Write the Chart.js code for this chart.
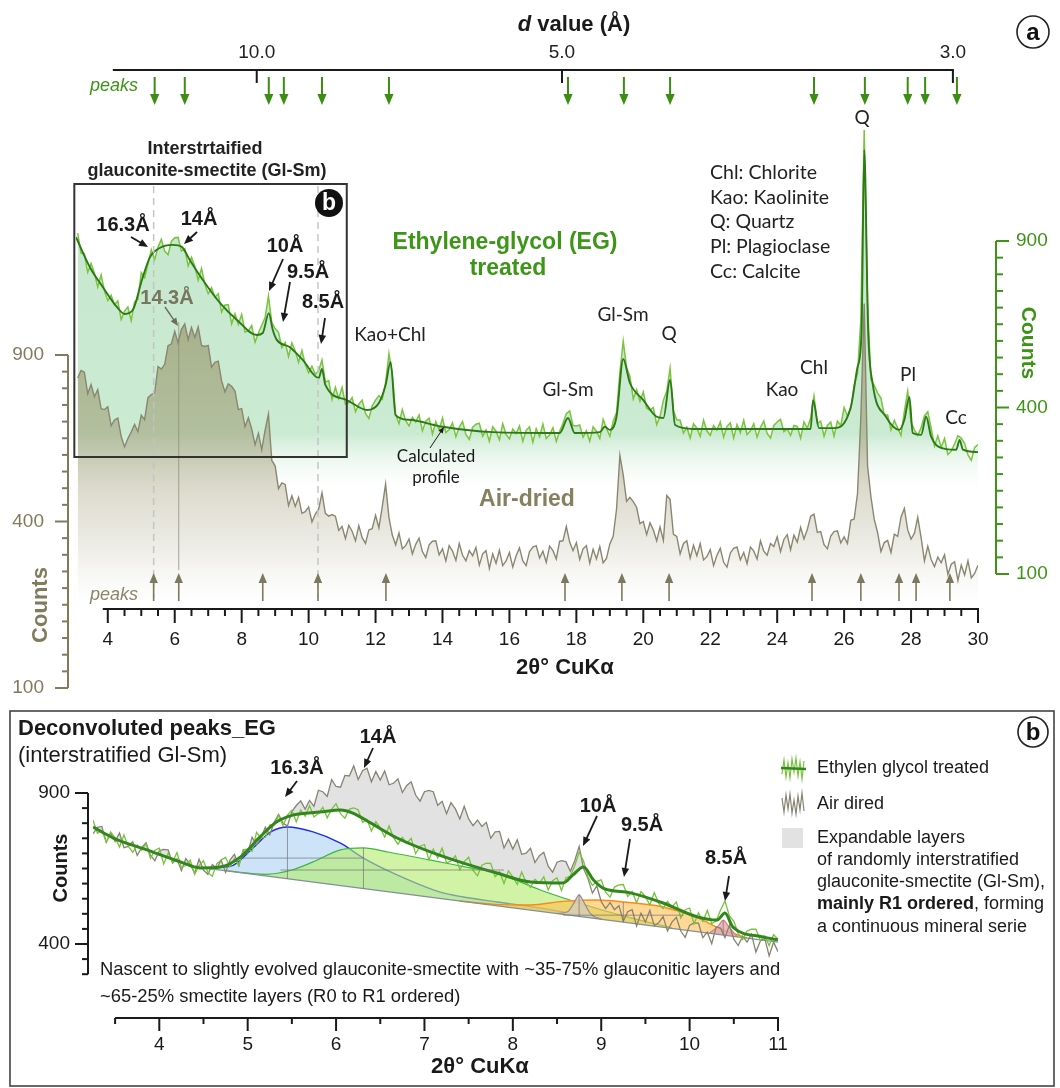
<!DOCTYPE html>
<html>
<head>
<meta charset="utf-8">
<script src="https://cdn.jsdelivr.net/npm/chart.js@4.4.1/dist/chart.umd.min.js"></script>
<style>
    html, body { margin: 0; padding: 0; background: #fff; }
    #wrap { position: relative; width: 1060px; height: 1088px; overflow: hidden; }
    #chartA { position: absolute; left: 0; top: 0; }
    #chartB { position: absolute; left: 0; top: 700px; }
</style>
</head>
<body>
<div id="wrap">
    <canvas id="chartA" width="1060" height="700"></canvas>
    <canvas id="chartB" width="1060" height="388"></canvas>
</div>
<script>
/**
 * DRX - patrones EG / secado al aire + picos deconvolucionados
 */

// ---- Panel a: datos (cuentas) ----
const rawStartA = 3.1;   // 2θ del primer punto crudo
const rawStepA = 0.1;

const egRawA = [
    929,857,854,791,821,788,742,782,729,698,
    715,685,697,639,665,678,636,694,702,790,
    773,819,869,834,878,906,864,851,899,912,
    913,864,872,813,842,811,764,804,751,720,
    740,709,720,662,684,685,626,657,624,655,
    602,605,621,572,599,622,645,712,630,612,
    601,557,572,532,570,547,516,549,510,488,
    505,483,494,522,463,467,420,450,422,450,
    408,412,424,390,408,418,386,374,404,418,
    429,420,461,540,484,384,362,395,369,357,
    377,366,382,346,368,375,339,367,348,375,
    342,349,364,333,354,367,338,327,354,361,
    363,334,348,323,355,345,326,362,338,328,
    350,340,357,323,347,355,321,351,333,361,
    329,337,353,323,345,363,385,392,358,357,
    359,332,346,323,355,345,329,372,351,334,
    368,388,489,575,502,478,421,444,415,438,
    398,394,400,360,379,418,440,500,392,371,
    370,341,354,330,362,352,334,370,346,336,
    358,348,366,332,356,364,330,360,342,370,
    338,346,362,332,354,368,340,330,358,366,
    372,344,350,336,358,356,330,366,352,375,
    428,363,368,334,358,366,334,368,358,400,
    380,397,455,485,640,1344,690,470,455,436,
    423,382,382,348,370,352,336,391,440,366,
    348,336,353,380,390,352,313,335,310,329,
    295,302,317,335,330,318,294,283,310,316
];

const airRawA = [
    819,845,839,766,797,756,780,717,714,723,
    663,681,687,630,600,624,644,667,645,696,
    682,753,763,768,859,850,866,934,941,987,
    944,995,1016,956,1002,964,1004,935,931,935,
    857,874,878,809,772,799,791,775,714,717,
    660,688,653,606,640,591,650,700,560,545,
    483,498,494,439,464,437,460,420,424,436,
    399,418,430,472,420,413,417,413,379,388,
    360,391,377,355,390,362,349,380,383,415,
    385,436,495,410,368,346,373,337,344,359,
    326,347,361,331,318,346,354,355,324,337,
    311,344,332,312,349,323,311,333,322,340,
    302,326,333,295,326,306,334,301,311,329,
    298,322,339,311,301,331,341,344,317,332,
    308,343,333,315,354,355,388,352,333,351,
    314,337,344,306,336,315,342,307,316,348,
    365,430,575,520,450,460,449,435,395,400,
    369,397,380,355,387,356,465,455,370,365,
    326,349,355,317,345,322,349,313,320,335,
    301,323,338,308,298,328,338,341,313,329,
    305,341,332,315,355,332,323,349,342,364,
    331,358,369,335,368,352,386,359,381,413,
    418,374,376,346,337,366,376,378,350,364,
    349,403,406,470,690,1095,545,462,405,374,
    331,351,356,329,370,365,411,432,380,359,
    372,410,362,311,343,314,299,319,307,324,
    283,304,309,271,302,282,311,276,285,302
];

// perfil calculado (EG)
const egCalcA_t = [3.05,3.46,3.85,4.27,4.51,4.75,5.02,5.26,5.55,5.94,6.21,6.45,6.84,7.35,7.86,8.45,8.63,8.81,8.93,9.05,
    9.44,9.83,10.3,10.4,10.5,11.14,11.75,12.1,12.3,12.45,12.6,13.0,14.0,15.5,17.5,17.75,17.95,18.7,18.85,19.0,
    19.2,19.4,19.6,20.0,20.4,20.6,20.8,20.95,21.5,25.0,25.07,25.25,25.7,26.2,26.4,26.52,26.6,26.72,26.85,27.25,
    27.65,27.8,27.95,28.05,28.3,28.45,28.6,28.9,29.35,29.45,29.55,30.0];
const egCalcA_v = [914,809,742,678,656,669,765,843,875,886,879,833,765,691,638,593,599,659,608,579,
    558,522,474,498,456,418,394,411,456,517,382,371,355,343,341,375,341,343,355,348,
    378,525,461,418,378,375,469,359,350,350,418,352,352,401,503,599,1258,599,461,378,
    348,371,426,341,337,378,333,309,305,326,305,300];

const xTicksA = [4, 6, 8, 10, 12, 14, 16, 18, 20, 22, 24, 26, 28, 30];
const dTickLabels = ['10.0', '5.0', '3.0'];
const dTickPos = [8.45, 17.57, 29.25];
const countTicks = [100, 400, 900];
const egPeaksA = [5.40, 6.30, 8.81, 9.26, 10.40, 12.40, 17.75, 19.42, 20.80, 25.10, 26.62, 27.90, 28.42, 29.37];
const airPeaksA = [5.37, 6.12, 8.63, 10.28, 12.31, 17.66, 19.36, 20.77, 25.04, 26.50, 27.64, 28.15, 29.16];
const guideDashed = [5.37, 10.28];
const guideSolid = 6.12;
const mineralLegend = ['Chl: Chlorite', 'Kao: Kaolinite', 'Q: Quartz', 'Pl: Plagioclase', 'Cc: Calcite'];

// ---- Panel b: datos (cuentas) ----
const rawStartB = 3.25;
const rawStepB = 0.05;

const egRawB = [
    795,747,758,715,752,731,698,741,700,680,
    705,687,710,659,687,694,640,677,646,679,
    629,635,653,606,634,651,612,599,640,653,
    662,631,659,634,689,691,683,750,731,732,
    778,778,814,775,814,833,789,833,810,850,
    807,820,844,804,837,858,820,803,837,842,
    835,787,798,755,790,767,733,774,731,708,
    732,711,729,675,701,707,654,691,660,694,
    644,650,668,621,648,663,619,601,636,643,
    642,598,614,576,617,598,573,613,580,564,
    590,577,598,556,585,595,554,595,600,634,
    680,650,598,570,583,588,549,534,565,572,
    573,536,551,517,551,535,510,548,515,499,
    521,504,519,472,496,501,455,487,462,494,
    456,463,495,522,478,463,428,412,435,440,
    440,410,422,396,425,413
];

const airRawB = [
    745,769,772,715,749,717,748,696,700,717,
    669,696,713,670,651,685,690,688,643,657,
    618,658,639,609,656,620,606,638,626,653,
    612,653,673,634,686,677,733,705,731,769,
    742,787,817,784,774,828,851,869,837,871,
    848,911,905,886,954,926,923,971,969,1011,
    954,991,1001,945,987,952,990,933,939,957,
    902,930,945,892,868,905,910,905,852,867,
    820,862,838,800,848,800,775,796,772,787,
    729,752,754,695,726,691,724,673,677,694,
    645,668,680,633,613,646,651,648,616,651,
    700,625,592,546,569,520,499,517,496,508,
    463,490,496,449,486,460,494,450,458,476,
    435,460,474,435,418,451,458,457,417,432,
    401,446,443,417,451,413,396,421,405,426,
    379,408,415,369,405,380
];

const egCalcB_t = [3.25,3.48,3.86,4.24,4.46,4.69,4.92,5.14,5.33,5.52,5.82,6.05,6.19,6.39,6.69,7.12,7.44,7.82,8.2,8.57,
    8.68,8.8,8.91,9.02,9.33,9.7,10.09,10.31,10.4,10.49,10.83,11.0];
const egCalcB_v = [770,730,688,647,627,630,664,734,789,815,826,834,822,785,730,675,643,610,581,578,
    604,630,588,562,547,516,475,466,486,446,419,411];

const baseB_t = [4.5, 11.0];
const baseB_v = [627, 405];
const pk16_t = [4.5,4.8,5.06,5.26,5.45,5.74,6.05,6.31,6.69,7.18,7.44,7.82,8.2,8.6,9.0];
const pk16_v = [627,632,695,752,770,752,712,660,604,549,534,519,505,488,470];
const pk14_t = [4.77,5.2,5.5,5.74,6.05,6.31,6.6,7.07,7.5,7.82,8.31,8.68,9.0,9.4,9.8];
const pk14_v = [617,606,620,647,688,695,680,653,628,610,556,522,496,468,444];
const pk95_t = [7.4,7.8,8.2,8.57,8.95,9.25,9.7,10.09,10.38,10.65];
const pk95_v = [522,512,510,521,525,519,504,472,438,416];
const pk10_t = [8.5,8.62,8.7,8.75,8.8,8.88,9.0];
const pk10_v = [485,490,520,541,520,484,468];
const pk85_t = [10.22,10.32,10.38,10.44,10.54];
const pk85_v = [428,448,466,448,419];

// marcas de centro / semi-altura de cada pico
const markCenter = [5.45, 6.31, 9.25, 8.75, 10.38];
const markTop = [770, 695, 519, 541, 466];
const markHalf = [660, 620, 480, null, null];
const markFrom = [4.92, 5.37, 8.57, null, null];
const markTo = [6.31, 7.9, 9.93, null, null];

const xTicksB = [4, 5, 6, 7, 8, 9, 10, 11];
const countTicksB = [400, 900];

// ---- utilidades ----
const SANS = "'Liberation Sans', Arial, sans-serif";
const HUM = "Lato, 'Liberation Sans', sans-serif";

function rawPoints(start, step, values) {
    return values.map((v, i) => ({ x: +(start + i * step).toFixed(3), y: Math.sqrt(v) }));
}

function pairPoints(ts, vs) {
    return ts.map((t, i) => ({ x: t, y: Math.sqrt(vs[i]) }));
}

// escala raíz cuadrada: sqrt(900)=30 anclado en un píxel
function sqrtRange(anchorPx, ppu, top, bottom) {
    return { min: 30 - (bottom - anchorPx) / ppu, max: 30 + (anchorPx - top) / ppu };
}

function txt(c, s, x, y, font, color, align = 'center', base = 'middle') {
    c.font = font;
    c.fillStyle = color;
    c.textAlign = align;
    c.textBaseline = base;
    c.fillText(s, x, y);
}

function rtxt(c, s, x, y, ang, font, color) {
    c.save();
    c.translate(x, y);
    c.rotate(ang);
    txt(c, s, 0, 0, font, color);
    c.restore();
}

function arrow(c, x1, y1, x2, y2, color, lw, head) {
    const ang = Math.atan2(y2 - y1, x2 - x1);
    const cs = Math.cos(ang), sn = Math.sin(ang);
    c.save();
    c.strokeStyle = color;
    c.fillStyle = color;
    c.lineWidth = lw;
    c.beginPath();
    c.moveTo(x1, y1);
    c.lineTo(x2 - cs * head * 0.7, y2 - sn * head * 0.7);
    c.stroke();
    c.beginPath();
    c.moveTo(x2, y2);
    c.lineTo(x2 - head * cs + head * 0.42 * sn, y2 - head * sn - head * 0.42 * cs);
    c.lineTo(x2 - head * cs - head * 0.42 * sn, y2 - head * sn + head * 0.42 * cs);
    c.closePath();
    c.fill();
    c.restore();
}

function seg(c, x1, y1, x2, y2) {
    c.beginPath();
    c.moveTo(x1, y1);
    c.lineTo(x2, y2);
    c.stroke();
}

function badge(c, x, y, r, letter, filled) {
    c.save();
    c.beginPath();
    c.arc(x, y, r, 0, Math.PI * 2);
    if (filled) {
        c.fillStyle = '#111';
        c.fill();
        txt(c, letter, x, y + 1, 'bold 23px ' + SANS, '#fff');
    } else {
        c.lineWidth = 1.6;
        c.strokeStyle = '#222';
        c.stroke();
        txt(c, letter, x, y + 1, 'bold 24px ' + SANS, '#111');
    }
    c.restore();
}

// ---- Panel a ----
const areaA = { left: 76, right: 978, top: 40, bottom: 700 };
const yAirRange = sqrtRange(355, 16.65, areaA.top, areaA.bottom);
const yEGRange = sqrtRange(241, 16.65, areaA.top, areaA.bottom);

const OLIVE = '#807b5c';
const GREEN = '#3d9416';

function egFill(context) {
    const chart = context.chart;
    if (!chart.chartArea) return 'rgba(195,231,204,0.9)';
    const g = chart.ctx.createLinearGradient(0, 180, 0, 497);
    g.addColorStop(0, 'rgba(192,229,201,0.9)');
    g.addColorStop(0.8, 'rgba(197,232,205,0.9)');
    g.addColorStop(1, 'rgba(255,255,255,0)');
    return g;
}

function airFill(context) {
    const chart = context.chart;
    if (!chart.chartArea) return 'rgba(150,145,105,0.5)';
    const g = chart.ctx.createLinearGradient(0, 320, 0, 606);
    g.addColorStop(0, 'rgba(145,138,92,0.6)');
    g.addColorStop(0.45, 'rgba(150,144,102,0.45)');
    g.addColorStop(0.8, 'rgba(160,155,120,0.18)');
    g.addColorStop(1, 'rgba(200,198,185,0)');
    return g;
}

const panelAPlugin = {
    id: 'panelA',
    afterDraw(chart) {
        const c = chart.ctx;
        const sx = chart.scales.x, sa = chart.scales.yAir, se = chart.scales.yEG;
        const px = t => sx.getPixelForValue(t);
        c.save();

        // líneas guía
        c.strokeStyle = 'rgba(195,195,195,0.95)';
        c.lineWidth = 1.5;
        c.setLineDash([7, 5]);
        guideDashed.forEach(t => seg(c, px(t), 186, px(t), 598));
        c.setLineDash([]);
        c.strokeStyle = 'rgba(140,137,118,0.75)';
        c.lineWidth = 1;
        seg(c, px(guideSolid), 322, px(guideSolid), 570);

        // recuadro b
        c.strokeStyle = '#333';
        c.lineWidth = 2;
        c.strokeRect(px(3.0), 184, px(11.14) - px(3.0), 273);
        badge(c, 329, 203, 14, 'b', true);

        // eje superior (valor d)
        c.strokeStyle = '#1a1a1a';
        c.lineWidth = 2;
        seg(c, px(4.15), 70, px(dTickPos[2]) + 1, 70);
        dTickPos.forEach((t, i) => {
            seg(c, px(t), 70, px(t), 83);
            txt(c, dTickLabels[i], px(t), 53, '19px ' + SANS, '#222');
        });
        c.font = 'bold italic 22px ' + SANS;
        const wd = c.measureText('d').width;
        c.font = 'bold 22px ' + SANS;
        const wr = c.measureText(' value (Å)').width;
        const x0 = 574 - (wd + wr) / 2;
        txt(c, 'd', x0, 25, 'bold italic 22px ' + SANS, '#1a1a1a', 'left');
        txt(c, ' value (Å)', x0 + wd, 25, 'bold 22px ' + SANS, '#1a1a1a', 'left');
        txt(c, 'peaks', 114, 86, 'italic 18px ' + SANS, GREEN);
        egPeaksA.forEach(t => arrow(c, px(t), 77, px(t), 105, '#3b8e12', 2, 11));
        badge(c, 1033, 32, 16, 'a', false);

        // eje inferior 2θ
        const by = 609;
        c.strokeStyle = '#1a1a1a';
        c.lineWidth = 2;
        seg(c, px(3.85), by, px(30) + 1, by);
        for (let k = 0; k <= 52; k++) {
            const t = 4 + k * 0.5;
            const major = xTicksA.includes(t);
            seg(c, px(t), by, px(t), by + (major ? 14 : 7));
        }
        xTicksA.forEach(t => txt(c, String(t), px(t), 640, '19px ' + SANS, '#1a1a1a'));
        txt(c, '2θ° CuKα', 565, 668, 'bold 22px ' + SANS, '#1a1a1a');

        // eje izquierdo (secado al aire)
        c.strokeStyle = OLIVE;
        c.lineWidth = 2;
        seg(c, 68, sa.getPixelForValue(30), 68, sa.getPixelForValue(10));
        for (let s = 10; s <= 30; s++) {
            const y = sa.getPixelForValue(s);
            seg(c, 68, y, 68 - (s % 10 === 0 ? 13 : 6), y);
        }
        countTicks.forEach(v => txt(c, String(v), 44, sa.getPixelForValue(Math.sqrt(v)), '19px ' + SANS, OLIVE, 'right'));
        rtxt(c, 'Counts', 41, 605, -Math.PI / 2, 'bold 22px ' + SANS, OLIVE);

        // eje derecho (EG)
        c.strokeStyle = GREEN;
        seg(c, 996, se.getPixelForValue(30), 996, se.getPixelForValue(10));
        for (let s = 10; s <= 30; s++) {
            const y = se.getPixelForValue(s);
            seg(c, 996, y, 996 + (s % 10 === 0 ? 13 : 7), y);
        }
        countTicks.forEach(v => txt(c, String(v), 1016, se.getPixelForValue(Math.sqrt(v)), '19px ' + SANS, GREEN, 'left'));
        rtxt(c, 'Counts', 1028, 343, Math.PI / 2, 'bold 21px ' + SANS, GREEN);

        // picos secado al aire
        txt(c, 'peaks', 114, 595, 'italic 18px ' + SANS, '#8a8668');
        airPeaksA.forEach(t => arrow(c, px(t), 601, px(t), 573, '#7c7a5e', 1.6, 10));

        // anotaciones recuadro
        const B = 'bold 20px ' + SANS;
        txt(c, 'Interstrtaified', 205, 149, 'bold 18px ' + SANS, '#222');
        txt(c, 'glauconite-smectite (Gl-Sm)', 207, 171, 'bold 18px ' + SANS, '#222');
        txt(c, '16.3Å', 123, 225, B, '#1a1a1a');
        arrow(c, 131, 237, 148, 247, '#1a1a1a', 1.8, 9);
        txt(c, '14Å', 199, 219, B, '#1a1a1a');
        arrow(c, 197, 232, 184, 244, '#1a1a1a', 1.8, 9);
        txt(c, '10Å', 285, 246, B, '#1a1a1a');
        arrow(c, 283, 259, 269, 291, '#1a1a1a', 1.8, 9);
        txt(c, '9.5Å', 308, 272, B, '#1a1a1a');
        arrow(c, 290, 282, 283, 322, '#1a1a1a', 1.8, 9);
        txt(c, '8.5Å', 323, 302, B, '#1a1a1a');
        arrow(c, 325, 318, 321, 344, '#1a1a1a', 1.8, 9);
        txt(c, '14.3Å', 167, 298, B, '#77755f');
        arrow(c, 165, 307, 178, 326, '#6f6d58', 1.4, 8);

        // etiquetas minerales
        const M = '19px ' + HUM;
        txt(c, 'Kao+Chl', 390, 335, M, '#222');
        txt(c, 'Gl-Sm', 623, 315, M, '#222');
        txt(c, 'Q', 669, 334, M, '#222');
        txt(c, 'Gl-Sm', 568, 390, M, '#222');
        txt(c, 'Kao', 782, 390, M, '#222');
        txt(c, 'Chl', 814, 368, M, '#222');
        txt(c, 'Pl', 908, 375, M, '#222');
        txt(c, 'Cc', 956, 418, M, '#222');
        txt(c, 'Q', 862, 118, M, '#222');
        mineralLegend.forEach((s, i) => txt(c, s, 710, 173 + i * 24.6, '19.5px ' + HUM, '#222', 'left'));

        txt(c, 'Ethylene-glycol (EG)', 505, 243, 'bold 23px ' + SANS, '#3e9619');
        txt(c, 'treated', 508, 269, 'bold 23px ' + SANS, '#3e9619');
        txt(c, 'Calculated', 436, 457, '17px ' + HUM, '#1a1a1a');
        txt(c, 'profile', 436, 478, '17px ' + HUM, '#1a1a1a');
        arrow(c, 430, 448, 444, 427, '#1a1a1a', 1, 6);
        txt(c, 'Air-dried', 527, 500, 'bold 23px ' + SANS, '#85815f');
        c.restore();
    }
};

new Chart(document.getElementById('chartA'), {
    type: 'line',
    data: {
        datasets: [
            {
                label: 'EG raw',
                data: rawPoints(rawStartA, rawStepA, egRawA),
                yAxisID: 'yEG',
                borderColor: 'rgb(122,196,62)',
                borderWidth: 1.5,
                pointRadius: 0,
                fill: 'start',
                backgroundColor: egFill,
                order: 4
            },
            {
                label: 'Air-dried',
                data: rawPoints(rawStartA, rawStepA, airRawA),
                yAxisID: 'yAir',
                borderColor: 'rgb(138,135,112)',
                borderWidth: 1.4,
                pointRadius: 0,
                fill: 'start',
                backgroundColor: airFill,
                order: 3
            },
            {
                label: 'Calculated profile',
                data: pairPoints(egCalcA_t, egCalcA_v),
                yAxisID: 'yEG',
                borderColor: 'rgb(44,122,22)',
                borderWidth: 1.9,
                pointRadius: 0,
                fill: false,
                cubicInterpolationMode: 'monotone',
                order: 1
            }
        ]
    },
    options: {
        responsive: false,
        animation: false,
        layout: { padding: { left: areaA.left, right: 1060 - areaA.right, top: areaA.top, bottom: 700 - areaA.bottom } },
        plugins: { legend: { display: false }, tooltip: { enabled: false } },
        scales: {
            x: { type: 'linear', min: 3.05, max: 30, display: false },
            yAir: { type: 'linear', min: yAirRange.min, max: yAirRange.max, display: false },
            yEG: { type: 'linear', min: yEGRange.min, max: yEGRange.max, display: false }
        }
    },
    plugins: [panelAPlugin]
});

// ---- Panel b ----
const areaB = { left: 93, right: 778, top: 60, bottom: 330 };
const yBRange = sqrtRange(93, 15.1, areaB.top, areaB.bottom);

function baseAt(t) {
    const s0 = Math.sqrt(baseB_v[0]), s1 = Math.sqrt(baseB_v[1]);
    return s0 + (s1 - s0) * (t - baseB_t[0]) / (baseB_t[1] - baseB_t[0]);
}

const panelBPlugin = {
    id: 'panelB',
    afterDraw(chart) {
        const c = chart.ctx;
        const sx = chart.scales.x, sy = chart.scales.y;
        const px = t => sx.getPixelForValue(t);
        const py = v => sy.getPixelForValue(Math.sqrt(v));
        c.save();

        // marcas de picos
        c.strokeStyle = 'rgba(110,110,110,0.75)';
        c.lineWidth = 0.9;
        markCenter.forEach((t, i) => {
            seg(c, px(t), py(markTop[i]), px(t), sy.getPixelForValue(baseAt(t)));
            if (markHalf[i] !== null) seg(c, px(markFrom[i]), py(markHalf[i]), px(markTo[i]), py(markHalf[i]));
        });

        // marco
        c.strokeStyle = '#444';
        c.lineWidth = 1.6;
        c.strokeRect(10, 11, 1044, 375);
        badge(c, 1033, 32, 15, 'b', false);

        txt(c, 'Deconvoluted peaks_EG', 18, 29, 'bold 22px ' + SANS, '#1a1a1a', 'left');
        txt(c, '(interstratified Gl-Sm)', 18, 56, '22px ' + SANS, '#1a1a1a', 'left');

        // eje y
        c.strokeStyle = '#1a1a1a';
        c.lineWidth = 2;
        seg(c, 88, sy.getPixelForValue(30), 88, sy.getPixelForValue(18));
        for (let s = 18; s <= 30; s++) {
            const y = sy.getPixelForValue(s);
            seg(c, 88, y, 88 - (s % 10 === 0 ? 13 : 6), y);
        }
        countTicksB.forEach(v => txt(c, String(v), 70, py(v), '19px ' + SANS, '#1a1a1a', 'right'));
        rtxt(c, 'Counts', 61, 168, -Math.PI / 2, 'bold 20px ' + SANS, '#1a1a1a');

        // eje x
        const by = 318;
        seg(c, px(3.5), by, px(11) + 1, by);
        for (let k = 0; k <= 15; k++) {
            const t = 3.5 + k * 0.5;
            const major = xTicksB.includes(t);
            seg(c, px(t), by, px(t), by + (major ? 13 : 6));
        }
        xTicksB.forEach(t => txt(c, String(t), px(t), 345, '19px ' + SANS, '#1a1a1a'));
        txt(c, '2θ° CuKα', 480, 367, 'bold 22px ' + SANS, '#1a1a1a');

        // nota
        txt(c, 'Nascent to slightly evolved glauconite-smectite with ~35-75% glauconitic layers and', 100, 270, '18.4px ' + SANS, '#1a1a1a', 'left');
        txt(c, '~65-25% smectite layers (R0 to R1 ordered)', 100, 297, '18.4px ' + SANS, '#1a1a1a', 'left');

        // etiquetas de picos
        const B = 'bold 20px ' + SANS;
        txt(c, '16.3Å', 297, 68, B, '#1a1a1a');
        arrow(c, 297, 81, 285, 97, '#1a1a1a', 1.8, 9);
        txt(c, '14Å', 378, 37, B, '#1a1a1a');
        arrow(c, 373, 48, 364, 68, '#1a1a1a', 1.8, 9);
        txt(c, '10Å', 598, 106, B, '#1a1a1a');
        arrow(c, 597, 116, 583, 146, '#1a1a1a', 1.8, 9);
        txt(c, '9.5Å', 642, 125, B, '#1a1a1a');
        arrow(c, 630, 139, 624, 177, '#1a1a1a', 1.8, 9);
        txt(c, '8.5Å', 726, 158, B, '#1a1a1a');
        arrow(c, 729, 176, 725, 201, '#1a1a1a', 1.8, 9);

        // leyenda
        const jit = [6, -8, 9, -5, 10, -9, 4, -10, 8, -6, 11, -7];
        c.lineWidth = 1.2;
        c.strokeStyle = 'rgb(120,195,60)';
        c.beginPath();
        jit.forEach((d, i) => { const x = 782 + i * 2; if (i === 0) c.moveTo(x, 68 + d); else c.lineTo(x, 68 + d); });
        c.stroke();
        c.strokeStyle = 'rgb(50,135,28)';
        c.lineWidth = 2.5;
        seg(c, 781, 68, 806, 69);
        c.lineWidth = 1.2;
        c.strokeStyle = 'rgb(135,132,115)';
        c.beginPath();
        jit.forEach((d, i) => { const x = 782 + i * 2; if (i === 0) c.moveTo(x, 104 - d); else c.lineTo(x, 104 - d); });
        c.stroke();
        c.fillStyle = '#e2e2e2';
        c.fillRect(782, 128, 21, 20);
        const L = '18px ' + SANS;
        txt(c, 'Ethylen glycol treated', 817, 68, L, '#1a1a1a', 'left');
        txt(c, 'Air dired', 817, 104, L, '#1a1a1a', 'left');
        txt(c, 'Expandable layers', 817, 138, L, '#1a1a1a', 'left');
        txt(c, 'of randomly interstratified', 817, 160, L, '#1a1a1a', 'left');
        txt(c, 'glauconite-smectite (Gl-Sm),', 817, 182, L, '#1a1a1a', 'left');
        txt(c, 'mainly R1 ordered', 817, 204, 'bold 18px ' + SANS, '#1a1a1a', 'left');
        c.font = 'bold 18px ' + SANS;
        const wb = c.measureText('mainly R1 ordered').width;
        txt(c, ', forming', 817 + wb, 204, L, '#1a1a1a', 'left');
        txt(c, 'a continuous mineral serie', 817, 227, L, '#1a1a1a', 'left');
        c.restore();
    }
};

new Chart(document.getElementById('chartB'), {
    type: 'line',
    data: {
        datasets: [
            { label: 'baseline', data: pairPoints(baseB_t, baseB_v), borderColor: 'rgb(130,145,150)', borderWidth: 1.4, pointRadius: 0, fill: false, order: 3 },
            { label: '16.3Å', data: pairPoints(pk16_t, pk16_v), borderColor: '#1f2fe0', borderWidth: 1.4, pointRadius: 0, cubicInterpolationMode: 'monotone',
              fill: { target: 0, above: 'rgba(205,228,248,1)', below: 'rgba(0,0,0,0)' }, order: 9 },
            { label: '14Å', data: pairPoints(pk14_t, pk14_v), borderColor: '#3cb83c', borderWidth: 1.2, pointRadius: 0, cubicInterpolationMode: 'monotone',
              fill: { target: 0, above: 'rgba(180,235,110,0.62)', below: 'rgba(0,0,0,0)' }, order: 8 },
            { label: '9.5Å', data: pairPoints(pk95_t, pk95_v), borderColor: '#ff8a12', borderWidth: 1.4, pointRadius: 0, cubicInterpolationMode: 'monotone',
              fill: { target: 0, above: 'rgba(255,190,80,0.6)', below: 'rgba(0,0,0,0)' }, order: 7 },
            { label: '10Å', data: pairPoints(pk10_t, pk10_v), borderColor: '#8f8f8f', borderWidth: 1.2, pointRadius: 0, cubicInterpolationMode: 'monotone',
              fill: { target: 0, above: 'rgba(215,205,185,0.8)', below: 'rgba(0,0,0,0)' }, order: 6 },
            { label: '8.5Å', data: pairPoints(pk85_t, pk85_v), borderColor: '#d08585', borderWidth: 1.2, pointRadius: 0, cubicInterpolationMode: 'monotone',
              fill: { target: 0, above: 'rgba(232,165,170,0.8)', below: 'rgba(0,0,0,0)' }, order: 5 },
            { label: 'Air dired', data: rawPoints(rawStartB, rawStepB, airRawB), borderColor: 'rgb(135,132,115)', borderWidth: 1.3, pointRadius: 0,
              fill: { target: 8, above: 'rgba(226,226,226,1)', below: 'rgba(0,0,0,0)' }, order: 2.5 },
            { label: 'Ethylen glycol treated', data: rawPoints(rawStartB, rawStepB, egRawB), borderColor: 'rgb(120,195,60)', borderWidth: 1.3, pointRadius: 0, fill: false, order: 2 },
            { label: 'EG calc', data: pairPoints(egCalcB_t, egCalcB_v), borderColor: 'rgb(50,135,28)', borderWidth: 3, pointRadius: 0, fill: false,
              cubicInterpolationMode: 'monotone', order: 1 }
        ]
    },
    options: {
        responsive: false,
        animation: false,
        layout: { padding: { left: areaB.left, right: 1060 - areaB.right, top: areaB.top, bottom: 388 - areaB.bottom } },
        plugins: { legend: { display: false }, tooltip: { enabled: false } },
        scales: {
            x: { type: 'linear', min: 3.25, max: 11, display: false },
            y: { type: 'linear', min: yBRange.min, max: yBRange.max, display: false }
        }
    },
    plugins: [panelBPlugin]
});
</script>
</body>
</html>
